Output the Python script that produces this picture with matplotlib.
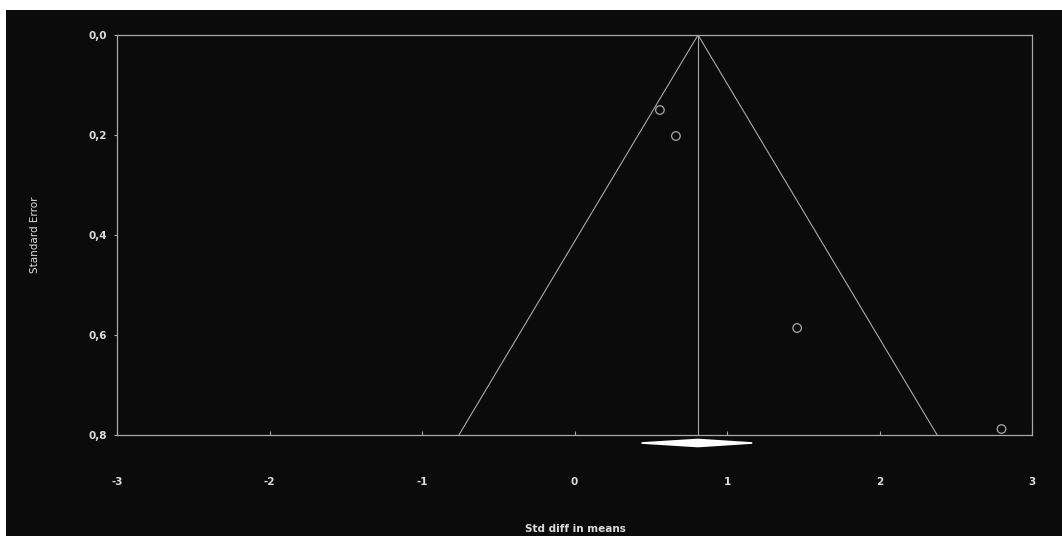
import numpy as np
import matplotlib.pyplot as plt
from matplotlib.patches import Rectangle, Polygon

# study effects (std diff in means) and standard errors
effect = [0.56, 0.665, 1.46, 2.80]
std_err = [0.150, 0.202, 0.586, 0.788]

pooled = 0.81          # combined estimate
ci_low, ci_high = 0.44, 1.165
se_max = 0.8

x_ticks = [-3, -2, -1, 0, 1, 2, 3]
y_ticks = [0.0, 0.2, 0.4, 0.6, 0.8]
y_labels = ['0,0', '0,2', '0,4', '0,6', '0,8']

bg = '#0b0b0b'
fg = '#a8a8a8'
txt = '#dcdcdc'

fig = plt.figure(figsize=(10.62, 5.36), dpi=100, facecolor='white')
fig.patches.append(Rectangle((6 / 1062, 0), 1, 1 - 10 / 536, transform=fig.transFigure,
                             facecolor=bg, edgecolor='none', zorder=-10))

ax = fig.add_axes([117 / 1062, 1 - 435 / 536, (1032 - 117) / 1062, 400 / 536])
ax.set_facecolor(bg)
for s in ax.spines.values():
    s.set_color(fg)
    s.set_linewidth(0.9)

# funnel
ax.plot([pooled - 1.96 * se_max, pooled, pooled + 1.96 * se_max], [se_max, 0, se_max],
        color=fg, lw=0.8)
ax.plot([pooled, pooled], [0, se_max], color=fg, lw=0.8)

# studies
ax.scatter(effect, std_err, s=38, facecolors='none', edgecolors=fg, linewidths=0.9, zorder=3)

# summary diamond
yd = 0.816
h = 0.007
ax.add_patch(Polygon([[ci_low, yd], [pooled, yd - h], [ci_high, yd], [pooled, yd + h]],
                     closed=True, facecolor='white', edgecolor='white', lw=1.2, clip_on=False))

ax.set_xlim(-3, 3)
ax.set_ylim(0.8, 0.0)
ax.set_xticks(x_ticks)
ax.set_xticklabels([str(v) for v in x_ticks])
ax.set_yticks(y_ticks)
ax.set_yticklabels(y_labels)
ax.tick_params(axis='x', direction='in', length=3, color=fg, pad=30,
               labelsize=7.5, labelcolor=txt)
ax.tick_params(axis='y', direction='out', length=2, color=fg, pad=5,
               labelsize=7.5, labelcolor=txt)
for lab in ax.get_xticklabels() + ax.get_yticklabels():
    lab.set_fontweight('bold')

fig.text(575 / 1062, 1 - 529 / 536, 'Std diff in means', color=txt, fontsize=7.5,
         fontweight='bold', ha='center', va='center')
fig.text(35 / 1062, 1 - 235 / 536, 'Standard Error', color=txt, fontsize=7.5,
         rotation=90, ha='center', va='center')

fig.savefig('out.png', dpi=100, facecolor='white')
